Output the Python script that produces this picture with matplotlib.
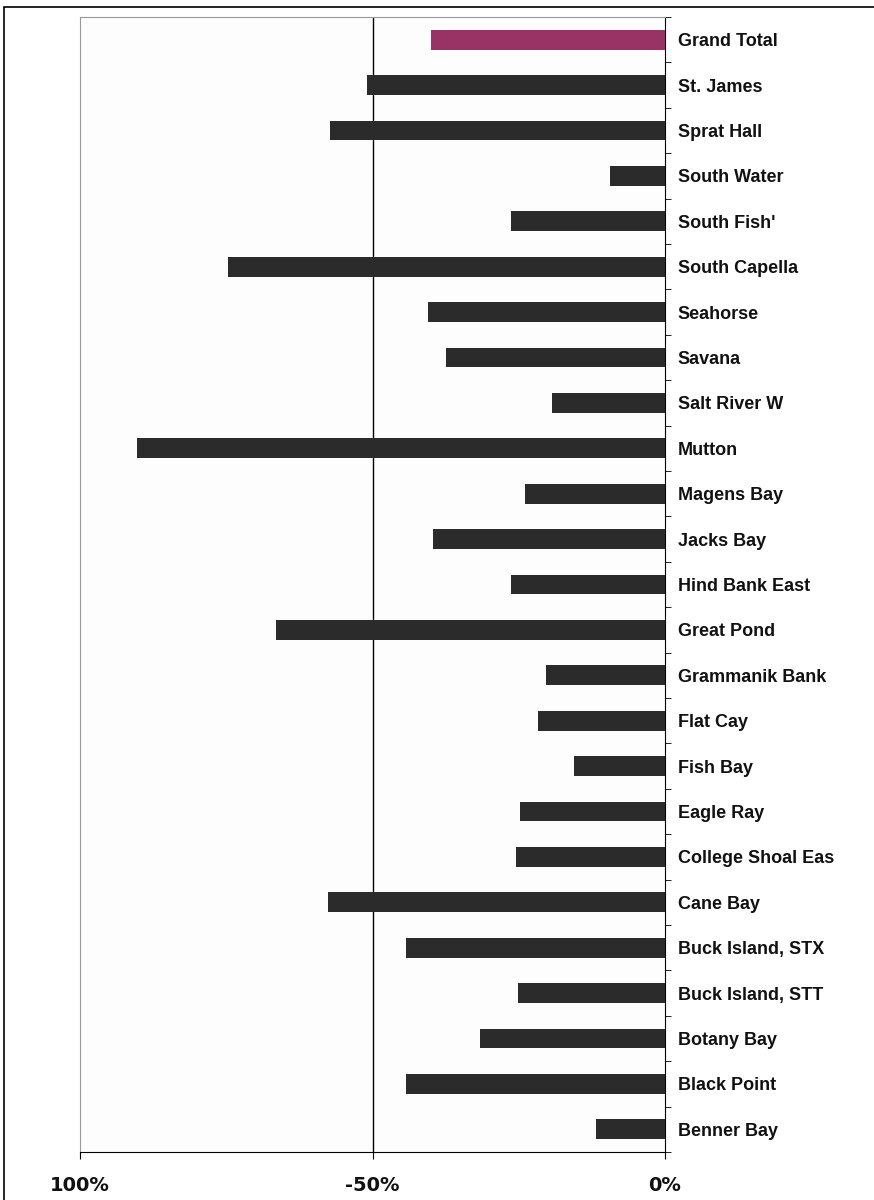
import matplotlib.pyplot as plt
from matplotlib.patches import Rectangle

# sites listed top to bottom, change as negative percent
sites = ["Grand Total", "St. James", "Sprat Hall", "South Water", "South Fish'",
         "South Capella", "Seahorse", "Savana", "Salt River W", "Mutton",
         "Magens Bay", "Jacks Bay", "Hind Bank East", "Great Pond",
         "Grammanik Bank", "Flat Cay", "Fish Bay", "Eagle Ray",
         "College Shoal Eas", "Cane Bay", "Buck Island, STX",
         "Buck Island, STT", "Botany Bay", "Black Point", "Benner Bay"]
change = [-40, -51, -57.3, -9.4, -26.3,
          -74.7, -40.5, -37.4, -19.3, -90.3,
          -23.9, -39.7, -26.3, -66.5,
          -20.3, -21.7, -15.6, -24.8,
          -25.5, -57.6, -44.3,
          -25.1, -31.6, -44.3, -11.8]
xticks = [-100, -50, 0]
xtick_labels = ["100%", "-50%", "0%"]

plt.rcParams['font.family'] = ['Liberation Sans', 'DejaVu Sans']

fig = plt.figure(figsize=(8.74, 12), dpi=100)
fig.patch.set_facecolor('white')
# outer frame like the screenshot
fig.add_artist(Rectangle((4 / 874, -0.01), 1.0, (1200 - 7) / 1200 + 0.01,
                         transform=fig.transFigure, fill=False,
                         edgecolor='black', linewidth=1.2))

ax = fig.add_axes([80 / 874, 48 / 1200, 585 / 874, 1135 / 1200])
ax.set_facecolor('#fdfdfd')

ypos = list(range(len(sites)))
colors = ['#993366'] + ['#2b2b2b'] * (len(sites) - 1)
ax.barh(ypos, change, height=0.44, color=colors, zorder=3)

ax.set_xlim(-100, 0)
ax.set_ylim(len(sites) - 0.5, -0.5)

# grid line at -50
ax.axvline(-50, color='black', linewidth=1.0, zorder=2)

for s in ['left', 'top']:
    ax.spines[s].set_color('#999999')
    ax.spines[s].set_linewidth(0.8)
ax.spines['bottom'].set_color('black')
ax.spines['right'].set_color('black')

ax.set_xticks(xticks)
ax.set_xticklabels(xtick_labels, fontsize=14, fontweight='bold',
                   family='DejaVu Sans', color='#111111')
ax.tick_params(axis='x', length=5, direction='out', pad=12)

ax.yaxis.tick_right()
ax.set_yticks(ypos)
ax.set_yticklabels(sites, fontsize=13, fontweight='bold', color='#111111')
ax.tick_params(axis='y', which='major', length=0, pad=9)
ax.set_yticks([i + 0.5 for i in range(-1, len(sites))], minor=True)
ax.tick_params(axis='y', which='minor', length=4, direction='out', right=True)

fig.savefig('out.png', dpi=100)
